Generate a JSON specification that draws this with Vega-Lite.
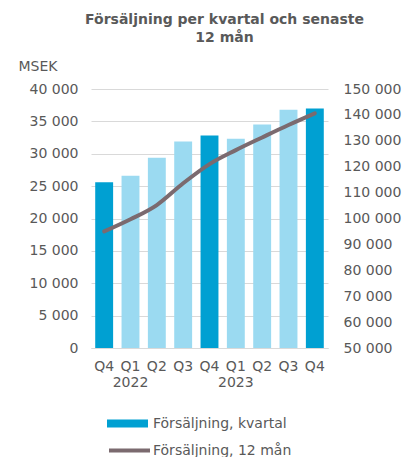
{
  "$schema": "https://vega.github.io/schema/vega-lite/v6.json",
  "width": 237,
  "height": 259,
  "autosize": "none",
  "padding": {"left": 91, "top": 89, "right": 78, "bottom": 109},
  "config": {
    "locale": {"number": {"decimal": ",", "thousands": " ", "grouping": [3], "currency": ["", " kr"]}},
    "font": "DejaVu Sans",
    "view": {"stroke": null},
    "axis": {"labelFont": "DejaVu Sans", "labelFontSize": 14, "labelColor": "#595959", "ticks": false, "domain": false, "gridColor": "#D9D9D9", "gridWidth": 1}
  },
  "title": {
    "text": ["Försäljning per kvartal och senaste", "12 mån"],
    "font": "DejaVu Sans",
    "fontSize": 14,
    "fontWeight": "bold",
    "color": "#595959",
    "anchor": "middle",
    "frame": "group",
    "offset": 14,
    "dx": 15,
    "lineHeight": 18
  },
  "data": {
    "values": [
      {"period": "Q4 2021", "kvartal": 25600, "tolv": 95000},
      {"period": "Q1 2022", "kvartal": 26600, "tolv": 99700},
      {"period": "Q2 2022", "kvartal": 29400, "tolv": 105200},
      {"period": "Q3 2022", "kvartal": 31900, "tolv": 113600},
      {"period": "Q4 2022", "kvartal": 32800, "tolv": 121000},
      {"period": "Q1 2023", "kvartal": 32300, "tolv": 126400},
      {"period": "Q2 2023", "kvartal": 34500, "tolv": 131300},
      {"period": "Q3 2023", "kvartal": 36800, "tolv": 136100},
      {"period": "Q4 2023", "kvartal": 37000, "tolv": 140600}
    ]
  },
  "layer": [
    {
      "mark": {"type": "bar"},
      "encoding": {
        "x": {
          "field": "period", "type": "ordinal", "sort": null,
          "scale": {"paddingInner": 0.32, "paddingOuter": 0.16},
          "axis": {
            "title": null, "labelAngle": 0, "domain": true, "domainColor": "#D9D9D9", "domainWidth": 1,
            "labelPadding": 11, "labelBaseline": "top", "labelLineHeight": 16,
            "labelExpr": "indexof(datum.value, 'Q1') == 0 ? split(datum.value, ' ') : split(datum.value, ' ')[0]"
          }
        },
        "y": {
          "field": "kvartal", "type": "quantitative",
          "scale": {"domain": [0, 40000], "nice": false},
          "axis": {
            "values": [0, 5000, 10000, 15000, 20000, 25000, 30000, 35000, 40000],
            "format": ",d", "labelPadding": 13,
            "title": "MSEK", "titleAngle": 0, "titleX": -73, "titleY": -23, "titleAlign": "left", "titleBaseline": "middle",
            "titleFontWeight": "normal", "titleFontSize": 14, "titleColor": "#595959", "titleFont": "DejaVu Sans"
          }
        },
        "color": {
          "condition": {"test": "indexof(datum.period, 'Q4') != 0", "value": "#9BDAF1"},
          "datum": "Försäljning, kvartal",
          "type": "nominal",
          "scale": {"range": ["#00A0D2"]},
          "legend": {
            "orient": "none", "legendX": 16, "legendY": 314, "title": null,
            "symbolType": "M-1,-0.2L1,-0.2L1,0.2L-1,0.2Z", "symbolSize": 1681, "symbolStrokeWidth": 0,
            "labelFontSize": 14, "labelFont": "DejaVu Sans", "labelColor": "#595959", "labelOffset": 5
          }
        }
      }
    },
    {
      "mark": {"type": "line", "interpolate": "monotone", "strokeWidth": 4, "strokeCap": "round"},
      "encoding": {
        "x": {"field": "period", "type": "ordinal", "sort": null},
        "y": {
          "field": "tolv", "type": "quantitative",
          "scale": {"domain": [50000, 150000], "nice": false},
          "axis": {
            "orient": "right", "grid": false, "title": null, "format": ",d", "labelPadding": 15,
            "values": [50000, 60000, 70000, 80000, 90000, 100000, 110000, 120000, 130000, 140000, 150000]
          }
        },
        "stroke": {
          "datum": "Försäljning, 12 mån",
          "type": "nominal",
          "scale": {"range": ["#7B6A6F"]},
          "legend": {
            "orient": "none", "legendX": 16, "legendY": 339, "title": null,
            "symbolType": "stroke", "symbolSize": 1681, "symbolStrokeWidth": 4,
            "labelFontSize": 14, "labelFont": "DejaVu Sans", "labelColor": "#595959", "labelOffset": 1
          }
        }
      }
    }
  ],
  "resolve": {"scale": {"y": "independent"}}
}
